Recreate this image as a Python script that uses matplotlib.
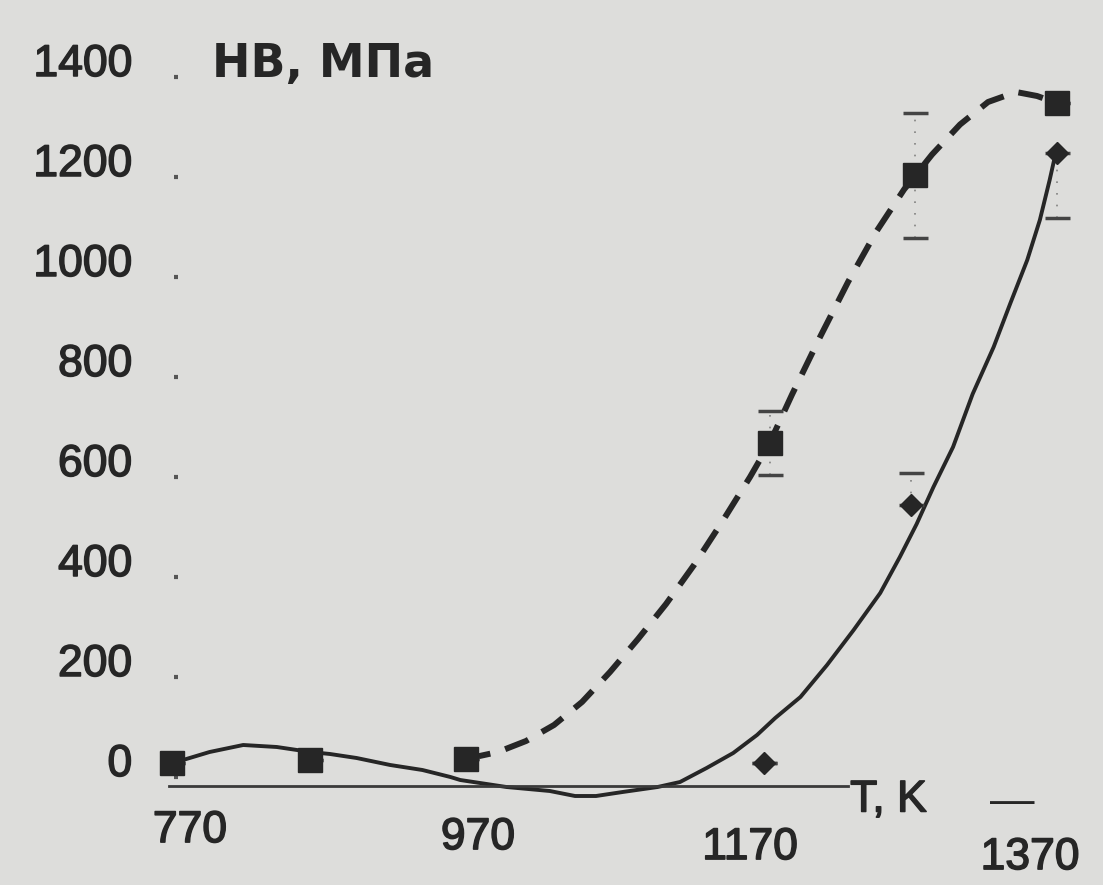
import matplotlib
matplotlib.use("Agg")
import matplotlib.pyplot as plt
import matplotlib.patheffects as pe
from matplotlib.transforms import ScaledTranslation

# values (T in K, HB in MPa)
sq_T = [757, 856, 967, 1184, 1288, 1389]
sq_HB = [28, 34, 36, 668, 1204, 1348]
sq_err_lo = [0, 0, 0, 64, 125, 0]
sq_err_hi = [0, 0, 0, 64, 125, 0]

dm_T = [1180, 1285, 1389]
dm_HB = [28, 544, 1248]
dm_err_lo = [0, 0, 130]
dm_err_hi = [0, 64, 0]

# dashed fitted curve (squares)
dash_T = [967, 990, 1010, 1030, 1050, 1070, 1090, 1110, 1130, 1150, 1170, 1184,
          1200, 1220, 1240, 1260, 1280, 1300, 1320, 1340, 1360, 1375, 1389]
dash_HB = [36, 50, 72, 104, 150, 210, 276, 346, 424, 510, 600, 668,
           765, 880, 990, 1090, 1175, 1245, 1305, 1350, 1370, 1362, 1348]

# solid fitted curve (diamonds)
solid_T = [757, 765, 784, 808, 832, 856, 870, 889, 913, 936, 956, 963, 996,
           1027, 1045, 1060, 1079, 1104, 1120, 1139, 1158, 1175, 1188, 1206,
           1225, 1244, 1263, 1277, 1289, 1301, 1315, 1329, 1344, 1356, 1368,
           1377, 1384, 1388]
solid_HB = [30, 34, 50, 64, 60, 50, 46, 38, 24, 14, 0, -6, -20,
            -28, -38, -38, -30, -20, -10, 18, 48, 84, 118, 160,
            224, 294, 368, 440, 506, 580, 660, 766, 860, 948, 1034,
            1114, 1194, 1244]

x_ticks = [770, 970, 1170, 1370]
y_ticks = [0, 200, 400, 600, 800, 1000, 1200, 1400]

bg = "#dddddb"
ink = "#262626"
font = "Liberation Sans"
thick = [pe.withStroke(linewidth=1.1, foreground=ink)]

fig = plt.figure(figsize=(11.03, 8.85), dpi=100)
fig.patch.set_facecolor(bg)
ax = fig.add_axes([0, 0, 1, 1])
ax.set_facecolor(bg)
ax.set_xlim(634.3, 1422.1)
ax.set_ylim(-216, 1554)

ax.plot(solid_T, solid_HB, color=ink, lw=2.8, solid_capstyle="round", solid_joinstyle="round")
ax.plot(dash_T, dash_HB, color=ink, lw=4.3, dashes=[4.2, 2.6])

# faint error bars, mostly only the caps survive in the scan
for T, HB, lo, hi in [(sq_T, sq_HB, sq_err_lo, sq_err_hi),
                      (dm_T, dm_HB, dm_err_lo, dm_err_hi)]:
    eb = ax.errorbar(T, HB, yerr=[lo, hi], fmt="none", ecolor="#444444",
                     elinewidth=1.2, capsize=9, capthick=2.5)
    for coll in eb[2]:
        coll.set_linestyle((0, (1, 6)))
        coll.set_alpha(0.6)

ax.plot(sq_T, sq_HB, "s", color=ink, ms=17, ls="none")
ax.plot(dm_T, dm_HB, "D", color=ink, ms=11, ls="none")

# axes: only a bottom line, no left spine
for s in ["top", "right", "left"]:
    ax.spines[s].set_visible(False)
ax.spines["bottom"].set_position(("data", -18))
ax.spines["bottom"].set_bounds(755, 1240)
ax.spines["bottom"].set_color("#3a3a3a")
ax.spines["bottom"].set_linewidth(2)
ax.spines["left"].set_position(("data", 760))

ax.set_xticks(x_ticks)
ax.set_xticklabels([str(t) for t in x_ticks], fontsize=32, family=font, color=ink)
ax.tick_params(axis="x", length=0, pad=26)
ax.set_yticks(y_ticks)
ax.set_yticklabels([str(t) for t in y_ticks], fontsize=32, family=font, color=ink)
ax.tick_params(axis="y", length=3, width=3, direction="inout", color="#555555", pad=30)

# scan is slightly skewed; nudge labels like the original
x_shift = [(0, 12), (8, 5), (0, -5), (0, -15)]
for lab, (dx, dy) in zip(ax.get_xticklabels(), x_shift):
    lab.set_transform(lab.get_transform() + ScaledTranslation(dx / 100, dy / 100, fig.dpi_scale_trans))
    lab.set_path_effects(thick)
for lab in ax.get_yticklabels():
    lab.set_transform(lab.get_transform() + ScaledTranslation(0, 17 / 100, fig.dpi_scale_trans))
    lab.set_path_effects(thick)

ax.text(785.7, 1400, "HB, МПа", fontsize=33, fontweight="bold",
        family="DejaVu Sans", color=ink, va="baseline", ha="left")
ax.text(1241.5, -46, "T, K", fontsize=32, family=font, color=ink,
        va="center", ha="left", path_effects=thick)
ax.text(1357, -50, "—", fontsize=32, family=font, color=ink, va="center", ha="center")

plt.savefig("out.png", dpi=100, facecolor=bg)
